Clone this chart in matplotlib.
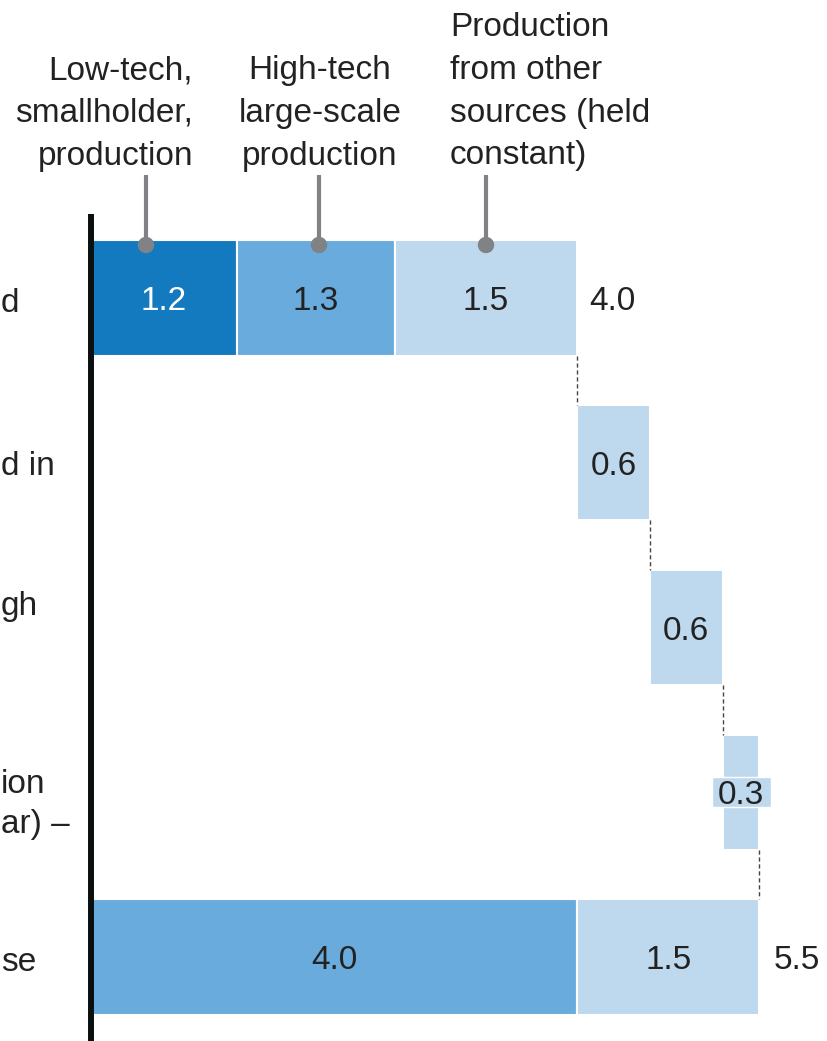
import matplotlib
matplotlib.use("Agg")
import matplotlib.pyplot as plt
from matplotlib.patches import Ellipse, Rectangle

plt.rcParams['font.family'] = ['Liberation Sans', 'DejaVu Sans']

# ---- data ----
top_segments = [1.2, 1.3, 1.5]            # low-tech, high-tech, other sources
top_total = 4.0
steps = [0.6, 0.6, 0.3]                   # waterfall increments
final_segments = [4.0, 1.5]
final_total = 5.5
header_labels = ["Low-tech,\nsmallholder,\nproduction",
                 "High-tech\nlarge-scale\nproduction",
                 "Production\nfrom other\nsources (held\nconstant)"]
# visible (cropped) parts of the row labels
row_labels = ["d", "d in", "gh", "ion", "ar) –", "se"]

C_DARK = '#147abf'
C_MED = '#6aabdd'
C_LIGHT = '#bed8ee'
TXT = '#222222'
FS = 24

W, H = 827, 1041
fig = plt.figure(figsize=(W / 100, H / 100), dpi=100)

# axes: x=0 at px 91, 121.5 px per unit; rows every 164.75 px starting at px 298
x0px, xscale = 91, 121.5
row0px, rowstep = 298, 164.75
ax_top_px = 214
ax = fig.add_axes([x0px / W, 0, (W - x0px) / W, (H - ax_top_px) / H])
ax.set_xlim(0, (W - x0px) / xscale)
ax.set_ylim((H - row0px) / rowstep, -(row0px - ax_top_px) / rowstep)
for s in ['top', 'right', 'bottom']:
    ax.spines[s].set_visible(False)
ax.spines['left'].set_linewidth(4.3)
ax.spines['left'].set_color('#0a0f0f')
ax.spines['left'].set_capstyle('butt')
ax.set_xticks([])
ax.set_yticks([])

bh = 0.70
dy = 12 / rowstep  # baseline offset so digits are vertically centred


def label(x, y, s, color=TXT, ha='center'):
    ax.text(x, y + dy, s, ha=ha, va='baseline', fontsize=FS, color=color, zorder=6)


# row 0: stacked starting bar
colors0 = [C_DARK, C_MED, C_LIGHT]
left = 0
for v, c in zip(top_segments, colors0):
    ax.barh(0, v, left=left, height=bh, color=c, edgecolor='white', linewidth=1.5)
    label(left + v / 2, 0, f"{v:.1f}", color='white' if c == C_DARK else TXT)
    left += v
label(left + 0.1, 0, f"{top_total:.1f}", ha='left')

# waterfall steps
cum = top_total
for i, v in enumerate(steps, start=1):
    ax.plot([cum, cum], [i - 1 + bh / 2, i - bh / 2], ls=(0, (3, 2)), color='#444444', lw=1.0)
    ax.barh(i, v, left=cum, height=bh, color=C_LIGHT, edgecolor='white', linewidth=1.5)
    if v < 0.45:
        bw, bhh = 59 / xscale, 30 / rowstep
        ax.add_patch(Rectangle((cum + v / 2 - bw / 2, i - bhh / 2), bw, bhh,
                               facecolor=C_LIGHT, edgecolor='white', lw=1.0, zorder=4))
    label(cum + v / 2, i, f"{v:.1f}")
    cum += v

# final bar
n = len(steps) + 1
ax.plot([cum, cum], [n - 1 + bh / 2, n - bh / 2], ls=(0, (3, 2)), color='#444444', lw=1.0)
left = 0
for v, c in zip(final_segments, [C_MED, C_LIGHT]):
    ax.barh(n, v, left=left, height=bh, color=c, edgecolor='white', linewidth=1.5)
    label(left + v / 2, n, f"{v:.1f}")
    left += v
label(left + 0.12, n, f"{final_total:.1f}", ha='left')


# header leader lines with dots
def px2x(px):
    return (px - x0px) / xscale


def py2y(py):
    return (py - row0px) / rowstep


for xp in [146, 319, 486]:
    xd = px2x(xp)
    ax.plot([xd, xd], [py2y(175), py2y(245)], color='#808285', lw=3.0,
            clip_on=False, solid_capstyle='butt')
    e = Ellipse((xd, py2y(245)), width=15 / xscale, height=15 / rowstep,
                color='#808285', clip_on=False, zorder=5)
    ax.add_patch(e)


# header texts (figure pixel positions)
def fx(px):
    return px / W


def fy(py):
    return 1 - py / H


fig.text(fx(193), fy(55), header_labels[0], ha='right', va='top', fontsize=FS,
         color=TXT, linespacing=1.49, multialignment='right')
fig.text(fx(320), fy(55), header_labels[1], ha='center', va='top', fontsize=FS,
         color=TXT, linespacing=1.49, multialignment='center')
fig.text(fx(450), fy(12), header_labels[2], ha='left', va='top', fontsize=FS,
         color=TXT, linespacing=1.49, multialignment='left')

# left row labels (only the part visible in the cropped reference)
row_label_base = [312, 475, 615, 793, 833, 971]
for txt, yb in zip(row_labels, row_label_base):
    fig.text(fx(1), fy(yb), txt, ha='left', va='baseline', fontsize=FS, color=TXT)

fig.savefig('out.png', dpi=100)
